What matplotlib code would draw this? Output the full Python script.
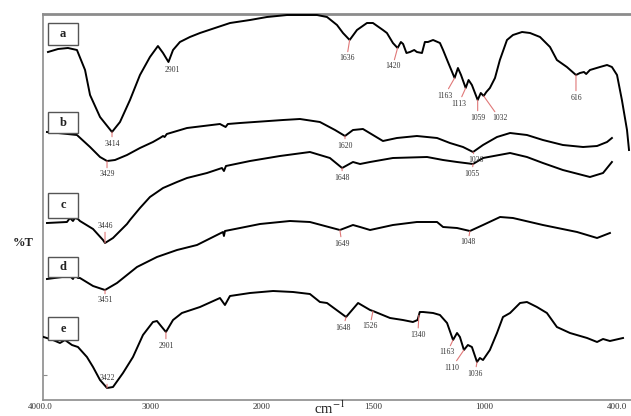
import numpy as np
import matplotlib
matplotlib.use('Agg')
import matplotlib.pyplot as plt
from matplotlib.patches import Rectangle
from matplotlib.transforms import ScaledTranslation

plt.rcParams['font.family'] = ['Liberation Serif', 'DejaVu Serif']
plt.rcParams['mathtext.fontset'] = 'stix'

# FTIR traces: wavenumber (cm-1) and relative transmittance (arbitrary offset units)
a_wn = [3991, 3900, 3811, 3730, 3657, 3612, 3522, 3414, 3342, 3252, 3162, 3072, 3000, 2954, 2905,
        2864, 2802, 2712, 2621, 2486, 2350, 2170, 2017, 1918, 1783, 1738, 1693, 1666, 1636, 1603,
        1558, 1531, 1486, 1468, 1441, 1420, 1405, 1395, 1380, 1364, 1345, 1333, 1310, 1297, 1283,
        1260, 1229, 1215, 1193, 1163, 1148, 1134, 1113, 1100, 1085, 1059, 1045, 1032, 1020, 1004,
        981, 959, 927, 900, 859, 823, 778, 733, 702, 657, 616, 598, 580, 570, 553, 508, 476, 454,
        431, 409, 386, 377]
a_t = [348, 351, 352, 350, 330, 305, 283, 268, 278, 300, 325, 343, 354, 347, 338,
       350, 358, 363, 367, 372, 377, 380, 383, 385, 385, 383, 375, 367, 360, 370,
       377, 377, 370, 367, 357, 352, 358, 356, 347, 348, 350, 348, 347, 358, 358,
       360, 357, 350, 338, 322, 332, 325, 312, 320, 315, 300, 307, 304, 308, 312,
       322, 340, 360, 365, 368, 367, 363, 353, 340, 333, 325, 327, 328, 326, 330, 333, 335, 333,
       325, 300, 270, 250]

b_wn = [4000, 3900, 3730, 3612, 3522, 3459, 3387, 3279, 3162, 3045, 2982, 2954, 2940, 2920, 2738,
        2441, 2390, 2370, 2260, 1936, 1860, 1770, 1702, 1657, 1621, 1576, 1486, 1423, 1333, 1242,
        1184, 1125, 1080, 1035, 972, 913, 837, 765, 675, 584, 521, 476, 454]
b_t = [268, 267, 265, 253, 243, 239, 240, 245, 252, 258, 262, 264, 263, 266, 272,
       276, 273, 276, 277, 280, 281, 278, 270, 264, 270, 271, 259, 262, 264, 262,
       257, 253, 248, 255, 263, 267, 265, 260, 255, 253, 254, 258, 262]

c_wn = [4000, 3820, 3793, 3766, 3748, 3721, 3703, 3585, 3495, 3477, 3405, 3279, 3252, 3162, 3072,
        2954, 2828, 2738, 2558, 2423, 2405, 2387, 2170, 1950, 1815, 1725, 1670, 1621, 1589, 1544,
        1441, 1287, 1215, 1152, 1080, 1035, 913, 837, 765, 675, 553, 494, 454]
c_t = [177, 178, 182, 179, 182, 181, 179, 171, 160, 157, 162, 176, 180, 192, 203,
       212, 218, 222, 227, 232, 229, 234, 239, 244, 248, 242, 232, 238, 236, 238,
       242, 243, 240, 238, 236, 242, 247, 243, 237, 230, 223, 227, 238]

d_wn = [4000, 3793, 3766, 3748, 3721, 3703, 3585, 3477, 3369, 3189, 3009, 2828, 2648, 2468, 2414,
        2405, 2396, 2260, 2080, 1905, 1815, 1680, 1621, 1589, 1544, 1441, 1333, 1242, 1215, 1152,
        1094, 1035, 958, 900, 765, 611, 521, 463]
d_t = [121, 124, 121, 125, 122, 122, 114, 110, 117, 133, 143, 150, 155, 165, 168,
       164, 169, 172, 176, 179, 178, 170, 175, 173, 170, 175, 178, 178, 173, 172,
       169, 175, 183, 182, 175, 168, 162, 167]

e_wn = [4030, 3946, 3883, 3838, 3775, 3721, 3640, 3585, 3522, 3459, 3405, 3315, 3225, 3135, 3045,
        3009, 2928, 2864, 2784, 2621, 2441, 2396, 2351, 2170, 1981, 1891, 1815, 1770, 1738, 1652,
        1598, 1544, 1531, 1454, 1396, 1351, 1330, 1320, 1305, 1260, 1229, 1197, 1170, 1152, 1139,
        1121, 1103, 1085, 1062, 1049, 1035, 1004, 972, 945, 913, 868, 837, 792, 747, 702,
        643, 566, 521, 494, 463, 404]
e_t = [63, 60, 57, 60, 55, 53, 43, 33, 20, 12, 13, 27, 43, 65, 78,
       79, 68, 80, 87, 93, 102, 95, 104, 107, 109, 108, 106, 98, 97, 83,
       97, 90, 89, 82, 80, 78, 80, 88, 88, 87, 85, 77, 60, 67, 63,
       50, 55, 53, 38, 42, 40, 50, 67, 83, 87, 97, 98, 93, 87, 73,
       67, 62, 58, 61, 59, 62]

# peak markers (position on the trace) and the printed band labels
a_peak_wn = [3414, 2905, 1636, 1420, 1163, 1113, 1059, 1032, 616]
a_peak_txt = ['3414', '2901', '1636', '1420', '1163', '1113', '1059', '1032', '616']
b_peak_wn = [3459, 1657, 1080]
b_peak_txt = ['3429', '1620', '1036']
c_peak_wn = [3477, 1670, 1080]
c_peak_txt = ['3446', '1648', '1055']
d_peak_wn = [3477, 1680, 1094]
d_peak_txt = ['3451', '1649', '1048']
e_peak_wn = [3459, 2928, 1652, 1531, 1324, 1170, 1121, 1062]
e_peak_txt = ['3422', '2901', '1648', '1526', '1340', '1163', '1110', '1036']

tick_wn = [4000, 3000, 2000, 1500, 1000, 400]
tick_txt = ['4000.0', '3000', '2000', '1500', '1000', '400.0']

# label text offsets in pixels (dx, dy, draw marker line)
a_off = [(0, -7.5, 1), (4, -4.5, 0), (-3, -14.5, 1), (-5, -14.5, 1), (-10, -13.5, 1),
         (-7, -11.5, 1), (0, -13.5, 1), (16, -18.5, 1), (0, -18.5, 1)]
b_off = [(0, -9.5, 1), (0, -5.5, 1), (3, -4.5, 1)]
c_off = [(0, 13.5, 1), (0, -5.5, 1), (-1, -5.5, 1)]
d_off = [(0, -6.5, 1), (2, -9.5, 1), (-2, -7.5, 1)]
e_off = [(0, 6.5, 1), (0, -9.5, 1), (-3, -6.5, 1), (-3, -11.5, 1), (-1, -15.5, 1),
         (-6, -8.5, 1), (-12, -13.5, 1), (-2, -7.5, 1)]

PINK = '#e07878'
GRAY = '#8c8c8c'


def fwd(w):
    # FTIR style axis: 4000-2000 compressed by half
    w = np.asarray(w, dtype=float)
    return np.where(w > 2000, 2000 + (w - 2000) / 2.0, w)


def inv(u):
    u = np.asarray(u, dtype=float)
    return np.where(u > 2000, 2000 + 2.0 * (u - 2000), u)


fig = plt.figure(figsize=(6.31, 4.16), dpi=100)
ax = fig.add_axes([43 / 631, 16 / 416, 588 / 631, 386 / 416])
ax.set_xscale('function', functions=(fwd, inv))

traces = [(a_wn, a_t, a_peak_wn, a_peak_txt, a_off),
          (b_wn, b_t, b_peak_wn, b_peak_txt, b_off),
          (c_wn, c_t, c_peak_wn, c_peak_txt, c_off),
          (d_wn, d_t, d_peak_wn, d_peak_txt, d_off),
          (e_wn, e_t, e_peak_wn, e_peak_txt, e_off)]

for wn, t, pk, txt, off in traces:
    ax.plot(wn, t, color='black', lw=1.4, solid_joinstyle='round', zorder=3)
    wn_r = np.asarray(wn, float)[::-1]
    t_r = np.asarray(t, float)[::-1]
    for w, s, (dx, dy, link) in zip(pk, txt, off):
        yv = np.interp(w, wn_r, t_r)
        arrow = dict(arrowstyle='-', color=PINK, lw=0.8, shrinkA=0, shrinkB=0) if link else None
        ax.annotate(s, xy=(w, yv), xytext=(dx, dy), textcoords='offset pixels',
                    ha='center', va='top' if dy < 0 else 'bottom',
                    fontsize=5.5, color='#333333', arrowprops=arrow, zorder=4)

ax.set_xlim(4036, 368)
ax.set_ylim(0, 386)

# sample letter boxes (pixel rows of the original layout)
box_rows = [(23, 45), (112, 133), (193, 218), (257, 277), (317, 340)]
for letter, (top, bot) in zip(['a', 'b', 'c', 'd', 'e'], box_rows):
    x0 = (48 - 43) / 588
    y0 = (400 - bot) / 386
    h = (bot - top) / 386
    ax.add_patch(Rectangle((x0, y0), 30 / 588, h, transform=ax.transAxes,
                           facecolor='white', edgecolor='#555555', lw=1.0, zorder=5))
    ax.text(x0 + 15 / 588, y0 + h / 2, letter, transform=ax.transAxes, ha='center',
            va='center', fontsize=9, fontweight='bold', color='#222222', zorder=6)

ax.set_xticks(tick_wn)
ax.set_xticklabels(tick_txt)
ax.xaxis.set_minor_locator(matplotlib.ticker.NullLocator())
ax.tick_params(axis='x', length=0, pad=2, labelsize=6.5, labelcolor='#333333')
# the printed labels sit a little left of their ticks in the original
shift = ScaledTranslation(-7 / 100, 0, fig.dpi_scale_trans)
for lbl in ax.get_xticklabels():
    lbl.set_transform(lbl.get_transform() + shift)
ax.set_yticks([25])
ax.tick_params(axis='y', direction='in', length=3, color=GRAY, labelleft=False)

for side in ['left', 'top', 'bottom']:
    ax.spines[side].set_color(GRAY)
ax.spines['left'].set_linewidth(1.2)
ax.spines['bottom'].set_linewidth(1.2)
ax.spines['top'].set_linewidth(2.0)
ax.spines['right'].set_visible(False)

fig.text(23 / 631, 1 - 243 / 416, '%T', ha='center', va='center', fontsize=9,
         fontweight='bold', color='#222222')
fig.text(330 / 631, 1 - 414 / 416, r'cm$^{-1}$', ha='center', va='baseline', fontsize=10.5,
         color='#222222')

fig.savefig('out.png', dpi=100)
